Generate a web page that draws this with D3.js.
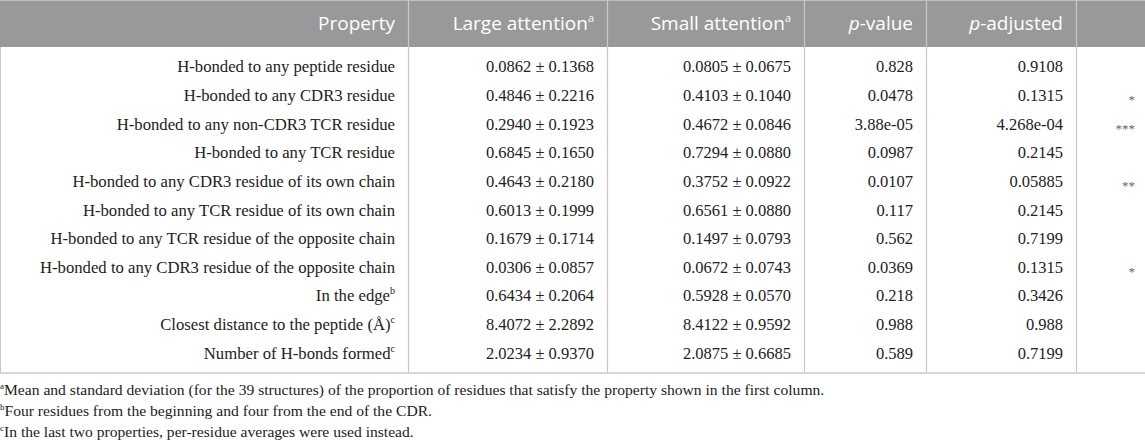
<!DOCTYPE html>
<html>
<head>
<meta charset="utf-8">
<script src="https://cdn.jsdelivr.net/npm/d3@7"></script>
<style>
  body { margin: 0; background: #fff; }
</style>
</head>
<body>
<svg id="tbl"></svg>
<script>
// table content
var properties = [
    ["H-bonded to any peptide residue", ""],
    ["H-bonded to any CDR3 residue", ""],
    ["H-bonded to any non-CDR3 TCR residue", ""],
    ["H-bonded to any TCR residue", ""],
    ["H-bonded to any CDR3 residue of its own chain", ""],
    ["H-bonded to any TCR residue of its own chain", ""],
    ["H-bonded to any TCR residue of the opposite chain", ""],
    ["H-bonded to any CDR3 residue of the opposite chain", ""],
    ["In the edge", "b"],
    ["Closest distance to the peptide (\u00c5)", "c"],
    ["Number of H-bonds formed", "c"]
];
var largeMean = ["0.0862", "0.4846", "0.2940", "0.6845", "0.4643", "0.6013", "0.1679", "0.0306", "0.6434", "8.4072", "2.0234"];
var largeSd   = ["0.1368", "0.2216", "0.1923", "0.1650", "0.2180", "0.1999", "0.1714", "0.0857", "0.2064", "2.2892", "0.9370"];
var smallMean = ["0.0805", "0.4103", "0.4672", "0.7294", "0.3752", "0.6561", "0.1497", "0.0672", "0.5928", "8.4122", "2.0875"];
var smallSd   = ["0.0675", "0.1040", "0.0846", "0.0880", "0.0922", "0.0880", "0.0793", "0.0743", "0.0570", "0.9592", "0.6685"];
var pValues   = ["0.828", "0.0478", "3.88e-05", "0.0987", "0.0107", "0.117", "0.562", "0.0369", "0.218", "0.988", "0.589"];
var pAdjusted = ["0.9108", "0.1315", "4.268e-04", "0.2145", "0.05885", "0.2145", "0.7199", "0.1315", "0.3426", "0.988", "0.7199"];
var stars     = ["", "*", "***", "", "**", "", "", "*", "", "", ""];

var footnotes = [
    ["a", "Mean and standard deviation (for the 39 structures) of the proportion of residues that satisfy the property shown in the first column."],
    ["b", "Four residues from the beginning and four from the end of the CDR."],
    ["c", "In the last two properties, per-residue averages were used instead."]
];

var width = 1145, height = 440;
var headH = 47;
var tableBottom = 373;
var colEdges = [0, 408, 607, 804, 926, 1076, 1145];
var pad = 13;
var serif = "'Liberation Serif', 'Times New Roman', serif";
var sans = "'Open Sans', 'Noto Sans', sans-serif";
var lineColor = "#c8c8c8";

var svg = d3.select("#tbl").attr("width", width).attr("height", height);

var rowY = d3.scaleBand()
    .domain(d3.range(properties.length))
    .range([52, 367]);

// header background
svg.append("rect")
    .attr("x", 0).attr("y", 0)
    .attr("width", width).attr("height", headH)
    .attr("fill", "#999999");
svg.append("line")
    .attr("x1", 0).attr("x2", width).attr("y1", 0.5).attr("y2", 0.5)
    .attr("stroke", "#bdbdbd");

// vertical dividers
colEdges.slice(1, -1).forEach(function(x) {
    svg.append("line")
        .attr("x1", x + 0.5).attr("x2", x + 0.5)
        .attr("y1", 0).attr("y2", tableBottom)
        .attr("stroke", lineColor)
        .attr("stroke-width", 1.2);
});
svg.append("line")
    .attr("x1", 0.5).attr("x2", 0.5).attr("y1", headH).attr("y2", tableBottom)
    .attr("stroke", lineColor);
svg.append("line")
    .attr("x1", 0).attr("x2", width).attr("y1", tableBottom).attr("y2", tableBottom)
    .attr("stroke", lineColor).attr("stroke-width", 1.5);

// header text
var headers = [
    [{t: "Property"}],
    [{t: "Large attention"}, {t: "a", sup: true}],
    [{t: "Small attention"}, {t: "a", sup: true}],
    [{t: "p", it: true}, {t: "-value"}],
    [{t: "p", it: true}, {t: "-adjusted"}],
    []
];
headers.forEach(function(parts, i) {
    var txt = svg.append("text")
        .attr("x", colEdges[i + 1] - pad)
        .attr("y", 30)
        .attr("text-anchor", "end")
        .attr("fill", "#ffffff")
        .attr("font-family", sans)
        .attr("font-size", 19);
    parts.forEach(function(p) {
        var ts = txt.append("tspan").text(p.t);
        if (p.it) ts.attr("font-style", "italic");
        if (p.sup) ts.attr("font-size", 11).attr("dy", -8);
    });
});

// body rows
var cells = properties.map(function(p, i) {
    return [
        p,
        [largeMean[i] + " \u00b1 " + largeSd[i], ""],
        [smallMean[i] + " \u00b1 " + smallSd[i], ""],
        [pValues[i], ""],
        [pAdjusted[i], ""],
        [stars[i], ""]
    ];
});

var rows = svg.selectAll("g.row")
    .data(cells)
    .enter().append("g")
    .attr("class", "row")
    .attr("transform", function(d, i) { return "translate(0," + (rowY(i) + rowY.bandwidth() / 2) + ")"; });

rows.selectAll("text")
    .data(function(d) { return d; })
    .enter().append("text")
    .attr("x", function(d, j) { return colEdges[j + 1] - pad + (j === 5 ? 3 : 0); })
    .attr("y", function(d, j) { return j === 5 ? 9 : 6; })
    .attr("text-anchor", "end")
    .attr("fill", function(d, j) { return j === 5 ? "#666" : "#222"; })
    .attr("font-family", serif)
    .attr("font-size", function(d, j) { return j === 0 ? 16.7 : (j === 5 ? 13 : 16.5); })
    .each(function(d) {
        var t = d3.select(this);
        t.append("tspan").text(d[0]);
        if (d[1]) t.append("tspan").attr("font-size", 10).attr("dy", -7).text(d[1]);
    });

// footnotes
svg.selectAll("text.foot")
    .data(footnotes)
    .enter().append("text")
    .attr("class", "foot")
    .attr("x", 0)
    .attr("y", function(d, i) { return 395 + i * 21; })
    .attr("fill", "#222")
    .attr("font-family", serif)
    .attr("font-size", 15.6)
    .each(function(d) {
        var t = d3.select(this);
        t.append("tspan").attr("font-size", 9).attr("dy", -6).text(d[0]);
        t.append("tspan").attr("dy", 6).text(d[1]);
    });
</script>
</body>
</html>
